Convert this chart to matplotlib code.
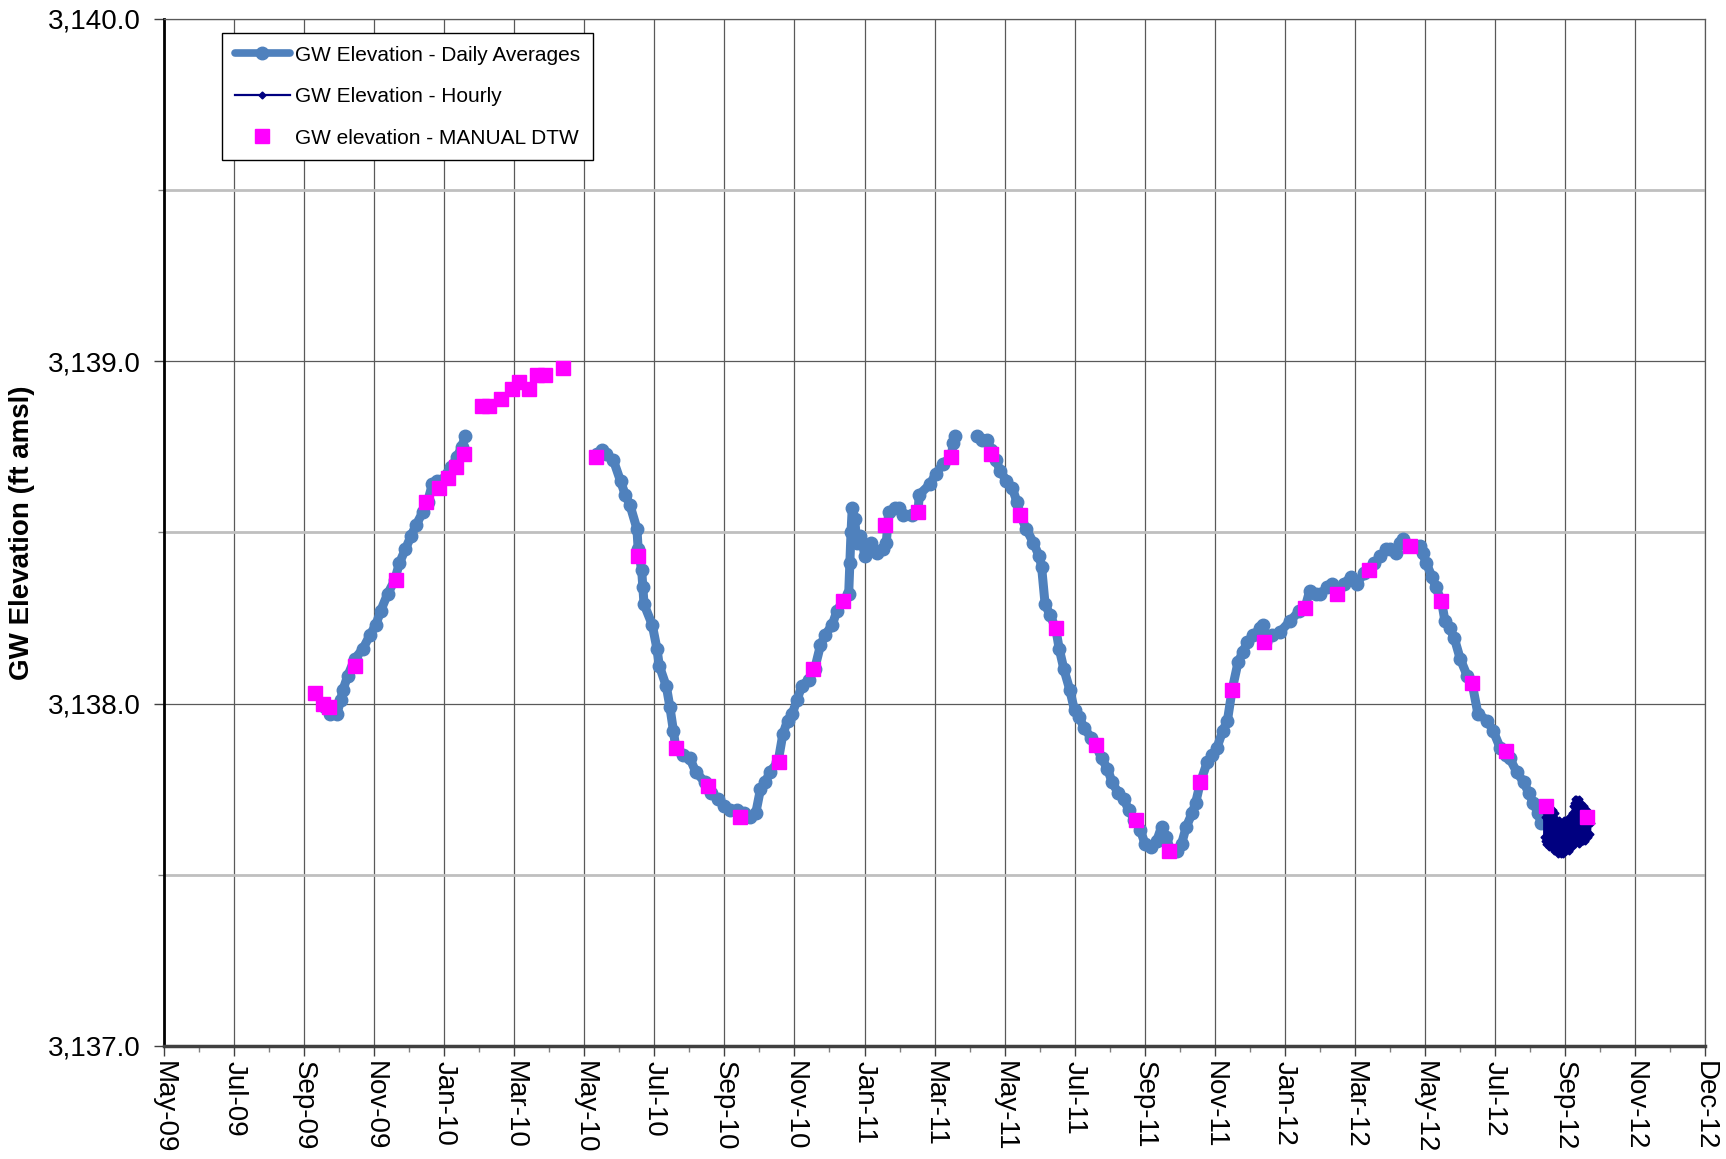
import numpy as np
import pandas as pd
import matplotlib
matplotlib.use('Agg')
import matplotlib.pyplot as plt
from matplotlib.ticker import FuncFormatter, MultipleLocator

plt.rcParams['font.family'] = ['Liberation Sans', 'DejaVu Sans']

# record start; all x values are days after t0
t0 = pd.Timestamp('2009-05-31')
x_span = 1310

tick_labels = ['May-09', 'Jul-09', 'Sep-09', 'Nov-09', 'Jan-10', 'Mar-10', 'May-10',
               'Jul-10', 'Sep-10', 'Nov-10', 'Jan-11', 'Mar-11', 'May-11', 'Jul-11',
               'Sep-11', 'Nov-11', 'Jan-12', 'Mar-12', 'May-12', 'Jul-12', 'Sep-12',
               'Nov-12', 'Dec-12']

# daily averages (three logger deployments)
seg1_day = [137, 141, 147, 150, 152, 156, 162, 169, 175, 180, 184, 190, 196, 200,
            205, 210, 214, 220, 224, 228, 232, 235, 241, 244, 249, 253, 256]
seg1_elev = [3137.99, 3137.97, 3137.97, 3138.01, 3138.04, 3138.08, 3138.13, 3138.16,
             3138.20, 3138.23, 3138.27, 3138.32, 3138.36, 3138.41, 3138.45, 3138.49,
             3138.52, 3138.56, 3138.59, 3138.64, 3138.65, 3138.65, 3138.67, 3138.69,
             3138.72, 3138.75, 3138.78]

seg2_day = [368, 372, 376, 382, 388, 392, 396, 402, 403, 406, 407, 408, 415, 419,
            421, 427, 430, 433, 435, 441, 447, 452, 460, 465, 471, 476, 481, 487,
            493, 498, 503, 507, 511, 515, 522, 526, 530, 534, 538, 542, 548, 553,
            558, 562, 568, 572, 577, 582, 583, 584, 585, 587, 589, 592, 596, 601,
            606, 611, 614, 616, 621, 625, 628, 636, 641, 642, 651, 656, 662, 669,
            671, 672]
seg2_elev = [3138.73, 3138.74, 3138.73, 3138.71, 3138.65, 3138.61, 3138.58, 3138.51,
             3138.45, 3138.39, 3138.34, 3138.29, 3138.23, 3138.16, 3138.11, 3138.05,
             3137.99, 3137.92, 3137.87, 3137.85, 3137.84, 3137.80, 3137.77, 3137.74,
             3137.72, 3137.70, 3137.69, 3137.69, 3137.68, 3137.67, 3137.68, 3137.75,
             3137.77, 3137.80, 3137.83, 3137.91, 3137.95, 3137.97, 3138.01, 3138.05,
             3138.07, 3138.10, 3138.17, 3138.20, 3138.23, 3138.27, 3138.30, 3138.32,
             3138.41, 3138.50, 3138.57, 3138.54, 3138.47, 3138.49, 3138.43, 3138.47,
             3138.44, 3138.45, 3138.47, 3138.56, 3138.57, 3138.57, 3138.55, 3138.55,
             3138.56, 3138.61, 3138.64, 3138.67, 3138.70, 3138.72, 3138.76, 3138.78]

seg3_day = [691, 695, 700, 703, 707, 711, 716, 721, 725, 728, 733, 739, 744, 746,
            749, 753, 758, 761, 765, 770, 774, 778, 782, 788, 792, 797, 802, 806,
            811, 816, 820, 825, 830, 834, 839, 844, 848, 852, 856, 861, 865, 869,
            874, 877, 881, 887, 891, 895, 900, 904, 908, 913, 917, 921, 926, 932,
            934, 936, 942, 949, 957, 965, 970, 974, 979, 983, 989, 993, 997, 1003,
            1009, 1014, 1020, 1024, 1029, 1034, 1039, 1042, 1047, 1051, 1053, 1059,
            1064, 1068, 1070, 1073, 1078, 1081, 1086, 1089, 1093, 1097, 1102, 1108,
            1112, 1117, 1125, 1130, 1136, 1141, 1144, 1150, 1156, 1160, 1164, 1168,
            1171]
seg3_elev = [3138.78, 3138.77, 3138.77, 3138.74, 3138.71, 3138.68, 3138.65, 3138.63,
             3138.59, 3138.55, 3138.51, 3138.47, 3138.43, 3138.40, 3138.29, 3138.26,
             3138.22, 3138.16, 3138.10, 3138.04, 3137.98, 3137.96, 3137.93, 3137.90,
             3137.88, 3137.84, 3137.81, 3137.77, 3137.74, 3137.72, 3137.69, 3137.66,
             3137.63, 3137.59, 3137.58, 3137.60, 3137.64, 3137.61, 3137.57, 3137.57,
             3137.59, 3137.64, 3137.68, 3137.71, 3137.77, 3137.83, 3137.85, 3137.87,
             3137.92, 3137.95, 3138.04, 3138.12, 3138.15, 3138.18, 3138.20, 3138.22,
             3138.23, 3138.18, 3138.20, 3138.21, 3138.24, 3138.27, 3138.28, 3138.33,
             3138.32, 3138.32, 3138.34, 3138.35, 3138.32, 3138.35, 3138.37, 3138.35,
             3138.38, 3138.39, 3138.41, 3138.43, 3138.45, 3138.45, 3138.44, 3138.47,
             3138.48, 3138.46, 3138.46, 3138.46, 3138.44, 3138.41, 3138.37, 3138.34,
             3138.30, 3138.24, 3138.22, 3138.19, 3138.13, 3138.08, 3138.06, 3137.97,
             3137.95, 3137.92, 3137.87, 3137.85, 3137.84, 3137.80, 3137.77, 3137.74,
             3137.71, 3137.68, 3137.65]

# hourly logger record, summarised as the night low and afternoon high of each day
hourly_first_day = 1173
hourly_low = [3137.61, 3137.60, 3137.59, 3137.60, 3137.58, 3137.59, 3137.58, 3137.59,
              3137.57, 3137.58, 3137.57, 3137.58, 3137.56, 3137.57, 3137.56, 3137.57,
              3137.56, 3137.57, 3137.58, 3137.57, 3137.58, 3137.57, 3137.59, 3137.58,
              3137.58, 3137.60, 3137.59, 3137.60, 3137.61, 3137.60, 3137.59, 3137.61,
              3137.60, 3137.60, 3137.61, 3137.60, 3137.61, 3137.61, 3137.62, 3137.62]
hourly_high = [3137.67, 3137.68, 3137.66, 3137.68, 3137.67, 3137.69, 3137.68, 3137.69,
               3137.67, 3137.68, 3137.66, 3137.65, 3137.66, 3137.65, 3137.64, 3137.65,
               3137.66, 3137.64, 3137.65, 3137.66, 3137.65, 3137.67, 3137.66, 3137.68,
               3137.70, 3137.71, 3137.72, 3137.72, 3137.71, 3137.72, 3137.70, 3137.71,
               3137.69, 3137.70, 3137.69, 3137.68, 3137.69, 3137.67, 3137.66, 3137.65]

# manual depth-to-water measurements converted to elevation
manual_day = [128, 135, 140, 162, 197, 223, 234, 241, 248, 255, 270, 276, 286, 296,
              302, 310, 317, 324, 339, 367, 403, 435, 462, 490, 523, 552, 577, 613,
              641, 669, 703, 728, 758, 792, 826, 854, 881, 908, 935, 970, 997, 1024,
              1059, 1086, 1112, 1141, 1175, 1210]
manual_elev = [3138.03, 3138.00, 3137.99, 3138.11, 3138.36, 3138.59, 3138.63, 3138.66,
               3138.69, 3138.73, 3138.87, 3138.87, 3138.89, 3138.92, 3138.94, 3138.92,
               3138.96, 3138.96, 3138.98, 3138.72, 3138.43, 3137.87, 3137.76, 3137.67,
               3137.83, 3138.10, 3138.30, 3138.52, 3138.56, 3138.72, 3138.73, 3138.55,
               3138.22, 3137.88, 3137.66, 3137.57, 3137.77, 3138.04, 3138.18, 3138.28,
               3138.32, 3138.39, 3138.46, 3138.30, 3138.06, 3137.86, 3137.70, 3137.67]


def to_date(days):
    return t0 + pd.to_timedelta(np.asarray(days, dtype=float), unit='D')


# interleave hourly lows and highs
h_days = hourly_first_day + np.arange(len(hourly_low))
h_x = np.ravel(np.column_stack([h_days + 0.25, h_days + 0.75]))
h_y = np.ravel(np.column_stack([hourly_low, hourly_high]))

blue = '#4F81BD'
fig = plt.figure(figsize=(17.26, 11.59), dpi=100)
ax = fig.add_axes([0.0951, 0.0975, 0.8927, 0.8864])

daily_kw = dict(color=blue, lw=6.5, marker='o', ms=9, mec=blue, mfc=blue, zorder=3,
                solid_capstyle='round', solid_joinstyle='round')
ax.plot(to_date(seg1_day), seg1_elev, label='GW Elevation - Daily Averages', **daily_kw)
ax.plot(to_date(seg2_day), seg2_elev, **daily_kw)
ax.plot(to_date(seg3_day), seg3_elev, **daily_kw)
ax.plot(to_date(h_x), h_y, color='#000080', lw=1.6, marker='D', ms=3.5,
        label='GW Elevation - Hourly', zorder=4)
ax.plot(to_date(manual_day), manual_elev, ls='none', marker='s', ms=10.5,
        color='#FF00FF', mec='#FF00FF', label='GW elevation - MANUAL DTW', zorder=5)

major = to_date(np.linspace(0, x_span, len(tick_labels)))
minor = to_date(np.linspace(0, x_span, 2 * len(tick_labels) - 1)[1::2])
ax.set_xticks(major)
ax.set_xticklabels(tick_labels, rotation=-90, fontsize=20)
ax.set_xticks(minor, minor=True)
ax.set_xlim(to_date([0])[0], to_date([x_span])[0])

ax.set_ylim(3137.0, 3140.0)
ax.yaxis.set_major_locator(MultipleLocator(1.0))
ax.yaxis.set_minor_locator(MultipleLocator(0.5))
ax.yaxis.set_major_formatter(FuncFormatter(lambda v, p: f'{v:,.1f}'))

ax.set_axisbelow(True)
ax.grid(True, which='major', color='#595959', lw=0.9)
ax.yaxis.grid(True, which='minor', color='#BFBFBF', lw=2)

ax.tick_params(axis='both', which='major', direction='out', length=7, width=1,
               color='#404040', labelsize=20)
ax.tick_params(axis='y', which='major', pad=10)
ax.tick_params(axis='x', which='major', pad=4)
ax.tick_params(axis='both', which='minor', direction='out', length=4, width=1,
               color='#808080')

ax.spines['left'].set_linewidth(2)
ax.spines['left'].set_color('black')
ax.spines['bottom'].set_linewidth(2.5)
ax.spines['bottom'].set_color('#404040')
for s in ('top', 'right'):
    ax.spines[s].set_linewidth(0.9)
    ax.spines[s].set_color('#595959')

fig.text(0.0125, 0.5407, 'GW Elevation (ft amsl)', rotation=90, ha='center',
         va='center', fontsize=20, fontweight='bold')

leg = ax.legend(loc='upper left', bbox_to_anchor=(0.0376, 0.986), borderaxespad=0,
                fontsize=15, frameon=True, fancybox=False, edgecolor='black',
                framealpha=1, borderpad=0.6, labelspacing=1.08, handlelength=2.65,
                handletextpad=0.25, numpoints=1)
leg.get_frame().set_linewidth(1)
for h in leg.get_lines()[:1]:
    h.set_linewidth(5.5)

fig.savefig('out.png', dpi=100)
